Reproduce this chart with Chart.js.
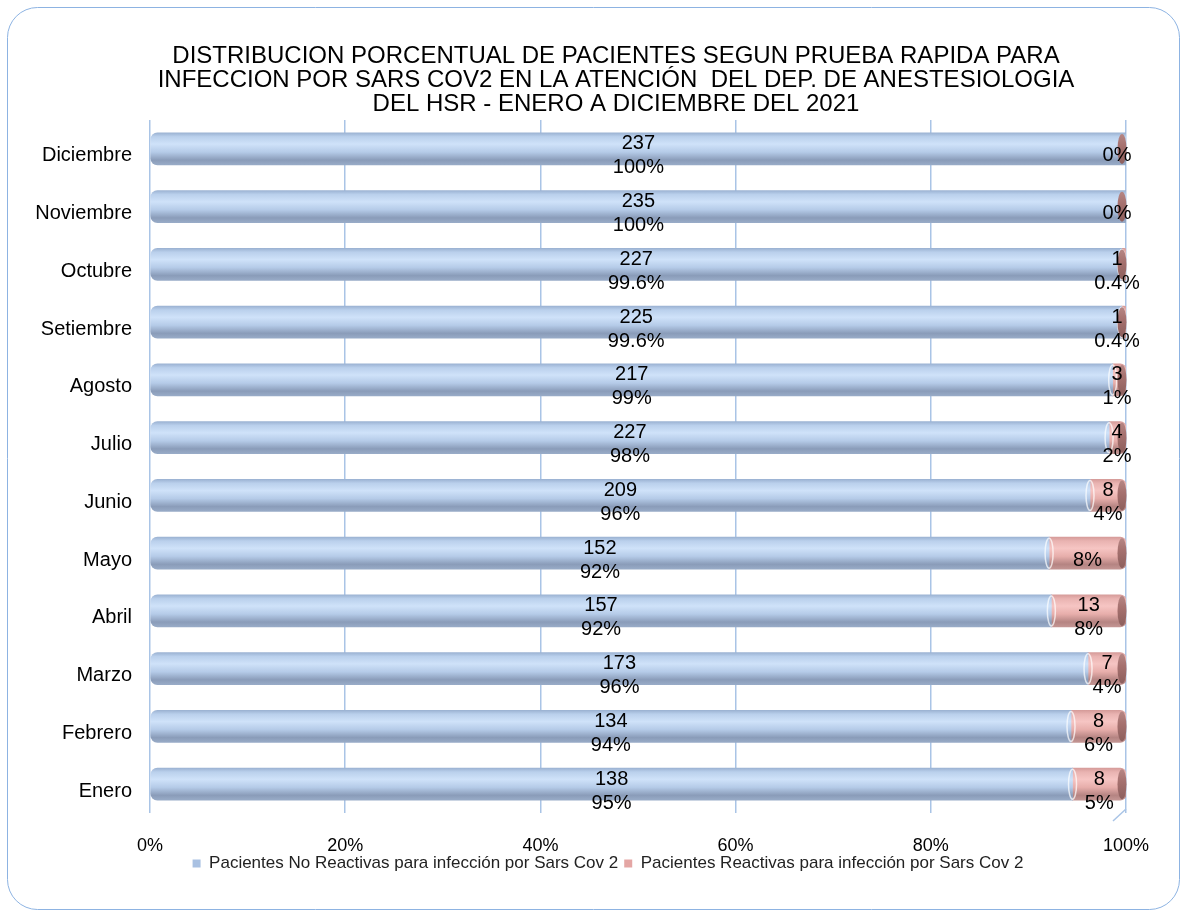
<!DOCTYPE html>
<html>
<head>
<meta charset="utf-8">
<script src="https://cdn.jsdelivr.net/npm/chart.js@4.4.1/dist/chart.umd.min.js"></script>
<style>
  html, body { margin: 0; padding: 0; background: #fff; }
</style>
</head>
<body>
<canvas id="grafico" width="1188" height="918"></canvas>
<script>
// Datos del grafico
const meses = ['Enero', 'Febrero', 'Marzo', 'Abril', 'Mayo', 'Junio', 'Julio', 'Agosto', 'Setiembre', 'Octubre', 'Noviembre', 'Diciembre'];
const noReactivas = [138, 134, 173, 157, 152, 209, 227, 217, 225, 227, 235, 237];
const reactivas = [8, 8, 7, 13, 13, 8, 4, 3, 1, 1, 0, 0];
const ticksPorcentaje = [0, 20, 40, 60, 80, 100];
const mesesSinConteo = ['Mayo'];   // en el original no aparece el numero

const titulo = [
    'DISTRIBUCION PORCENTUAL DE PACIENTES SEGUN PRUEBA RAPIDA PARA',
    'INFECCION POR SARS COV2 EN LA ATENCIÓN  DEL DEP. DE ANESTESIOLOGIA',
    'DEL HSR - ENERO A DICIEMBRE DEL 2021'
];
const nombreNoReactivas = 'Pacientes No Reactivas para infección por Sars Cov 2';
const nombreReactivas = 'Pacientes Reactivas para infección por Sars Cov 2';

const fuente = '"Liberation Sans", Arial, sans-serif';
const grosor = 32;
const desfase = 7;   // las etiquetas quedan un poco debajo del cilindro

// 100% apilado
const totales = noReactivas.map((v, i) => v + reactivas[i]);
const pctNo = noReactivas.map((v, i) => v / totales[i] * 100);
const pctSi = reactivas.map((v, i) => v / totales[i] * 100);

function formatoPct(p) {
    const r = Math.round(p);
    if ((r === 100 && p < 100) || (r === 0 && p > 0)) return p.toFixed(1) + '%';
    return r + '%';
}

function degradado(paradas, base) {
    return function (c) {
        const chart = c.chart;
        if (!chart.chartArea || c.dataIndex === undefined) return base;
        const y = chart.scales.y.getPixelForValue(c.dataIndex);
        const g = chart.ctx.createLinearGradient(0, y - grosor / 2, 0, y + grosor / 2);
        paradas.forEach(p => g.addColorStop(p[0], p[1]));
        return g;
    };
}

const azul = [[0, '#9cb3d3'], [0.12, '#bad0ec'], [0.35, '#cfe2f9'], [0.6, '#b5cbe8'], [0.85, '#8a9cb9'], [1, '#98abc7']];
const rojo = [[0, '#d69c9a'], [0.12, '#e9b3b1'], [0.35, '#f6c5c3'], [0.6, '#e7aeab'], [0.85, '#b58482'], [1, '#c39593']];

// borde redondeado del recuadro y piso 3D
const recuadro = {
    id: 'recuadro',
    beforeDraw(chart) {
        const ctx = chart.ctx;
        ctx.save();
        ctx.strokeStyle = '#8db3e2';
        ctx.lineWidth = 1;
        ctx.beginPath();
        ctx.roundRect(7.5, 7.5, 1172, 902, 30);
        ctx.stroke();
        ctx.restore();
    },
    beforeDatasetsDraw(chart) {
        const a = chart.chartArea;
        const ctx = chart.ctx;
        ctx.save();
        ctx.strokeStyle = '#a9c4e6';
        ctx.lineWidth = 1.5;
        ctx.beginPath();
        ctx.moveTo(a.right, a.bottom - 4);
        ctx.lineTo(a.right - 13, a.bottom + 8);
        ctx.stroke();
        ctx.restore();
    }
};

// centrar titulo y leyenda como en el original
const centrado = {
    id: 'centrado',
    afterLayout(chart) {
        chart.titleBlock.left += 38;
        chart.titleBlock.right += 38;
        chart.legend.left += 30;
        chart.legend.right += 30;
        chart.legend.top -= 8;
        chart.legend.bottom -= 8;
    }
};

// tapas de los cilindros
const tapas = {
    id: 'tapas',
    afterDatasetsDraw(chart) {
        const ctx = chart.ctx;
        const metaNo = chart.getDatasetMeta(0).data;
        const metaSi = chart.getDatasetMeta(1).data;
        ctx.save();
        metaSi.forEach((bar, i) => {
            const h = bar.height / 2 - 1;
            const fin = Math.max(bar.x, bar.base);
            if (reactivas[i] > 0) {
                ctx.strokeStyle = 'rgba(255,255,255,0.7)';
                ctx.lineWidth = 1.5;
                ctx.beginPath();
                ctx.ellipse(metaNo[i].x, bar.y, 4, h, 0, 0, Math.PI * 2);
                ctx.stroke();
            }
            const g = ctx.createLinearGradient(0, bar.y - h, 0, bar.y + h);
            g.addColorStop(0, '#b68785');
            g.addColorStop(0.4, '#a6716f');
            g.addColorStop(1, '#8c5f5d');
            ctx.fillStyle = g;
            ctx.beginPath();
            ctx.ellipse(fin - 4, bar.y, 4.5, h, 0, 0, Math.PI * 2);
            ctx.fill();
        });
        ctx.restore();
    }
};

// etiquetas de datos: conteo y porcentaje
const etiquetas = {
    id: 'etiquetas',
    afterDatasetsDraw(chart) {
        const ctx = chart.ctx;
        ctx.save();
        ctx.font = '20px ' + fuente;
        ctx.fillStyle = '#000';
        ctx.textAlign = 'center';
        ctx.textBaseline = 'middle';
        chart.data.datasets.forEach((ds, d) => {
            chart.getDatasetMeta(d).data.forEach((bar, i) => {
                let x = (bar.x + bar.base) / 2;
                if (d === 1) x = Math.min(x, chart.chartArea.right - 9);
                const y = bar.y + desfase;
                const conteo = ds.conteos[i];
                const pct = formatoPct(ds.data[i]);
                if (conteo === 0 || (d === 1 && mesesSinConteo.includes(meses[i]))) {
                    ctx.fillText(pct, x, y);
                } else {
                    ctx.fillText(String(conteo), x, y - 12);
                    ctx.fillText(pct, x, y + 12);
                }
            });
        });
        ctx.restore();
    }
};

const ctx = document.getElementById('grafico').getContext('2d');
new Chart(ctx, {
    type: 'bar',
    data: {
        labels: meses,
        datasets: [{
            label: nombreNoReactivas,
            data: pctNo,
            conteos: noReactivas,
            backgroundColor: degradado(azul, '#b9cde8'),
            borderWidth: 0,
            borderSkipped: false,
            borderRadius: { topLeft: 7, bottomLeft: 7, topRight: 0, bottomRight: 0 },
            barThickness: grosor
        }, {
            label: nombreReactivas,
            data: pctSi,
            conteos: reactivas,
            backgroundColor: degradado(rojo, '#eab3b1'),
            borderWidth: 0,
            borderSkipped: false,
            borderRadius: { topLeft: 0, bottomLeft: 0, topRight: 6, bottomRight: 6 },
            barThickness: grosor
        }]
    },
    options: {
        responsive: false,
        animation: false,
        indexAxis: 'y',
        layout: { padding: { top: 30, left: 30, right: 62, bottom: 28 } },
        scales: {
            x: {
                stacked: true,
                min: 0,
                max: 100,
                afterBuildTicks: s => { s.ticks = ticksPorcentaje.map(v => ({ value: v })); },
                afterFit: s => { s.height = 44; },
                ticks: {
                    callback: v => v + '%',
                    color: '#000',
                    font: { family: fuente, size: 18 },
                    padding: 22
                },
                grid: { color: '#a9c4e6', lineWidth: 1.5, drawTicks: false },
                border: { display: false }
            },
            y: {
                stacked: true,
                reverse: true,
                afterFit: s => { s.width = 120; },
                ticks: {
                    color: '#000',
                    font: { family: fuente, size: 20 },
                    padding: 18,
                    labelOffset: desfase
                },
                grid: { display: false, drawTicks: false },
                border: { display: false }
            }
        },
        plugins: {
            title: {
                display: true,
                text: titulo,
                color: '#000',
                font: { family: fuente, size: 24, weight: 'normal', lineHeight: 1.0 },
                padding: { top: 14, bottom: 4 }
            },
            legend: {
                position: 'bottom',
                labels: {
                    boxWidth: 8,
                    boxHeight: 8,
                    padding: 6,
                    color: '#222',
                    font: { family: fuente, size: 17 },
                    generateLabels(chart) {
                        const items = Chart.defaults.plugins.legend.labels.generateLabels(chart);
                        const solidos = ['#a9c1e2', '#e4a6a4'];
                        items.forEach((it, k) => { it.fillStyle = solidos[k]; it.strokeStyle = solidos[k]; it.lineWidth = 0; });
                        return items;
                    }
                }
            },
            tooltip: { enabled: false }
        }
    },
    plugins: [recuadro, centrado, tapas, etiquetas]
});
</script>
</body>
</html>
